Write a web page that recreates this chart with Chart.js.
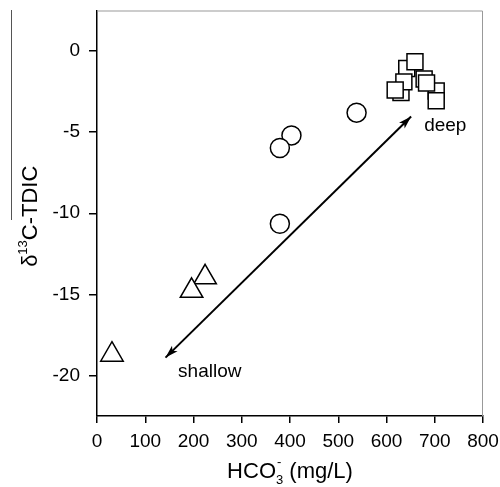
<!DOCTYPE html>
<html lang="en">
<head>
    <meta charset="UTF-8">
    <title>d13C vs HCO3</title>
    <script src="https://cdn.jsdelivr.net/npm/chart.js@4.4.0/dist/chart.umd.min.js"></script>
    <style>
        body { margin: 0; background: #fff; }
        #wrap { width: 500px; height: 487px; overflow: hidden; }
        #plot { display: block; margin-top: -4px; }
    </style>
</head>
<body>
    <div id="wrap"><canvas id="plot" width="500" height="491"></canvas></div>
    <script>
        // readings (HCO3 mg/L, d13C)
        const shallowX = [224, 196, 31];
        const shallowY = [-13.95, -14.78, -18.72];
        const midX = [403, 379, 379, 538];
        const midY = [-5.2, -5.98, -10.65, -3.8];
        const deepX = [642, 678, 703, 630, 636, 659, 683, 618, 703];
        const deepY = [-1.07, -1.72, -2.46, -2.56, -1.9, -0.66, -1.97, -2.4, -3.07];

        const xTicks = [0, 100, 200, 300, 400, 500, 600, 700, 800];
        const yTicks = [-20, -15, -10, -5, 0];

        // arrow ends and labels, in data units
        const arrowFrom = [142, -18.9];
        const arrowTo = [651, -4.04];
        const labelDeep = [678, -4.6];
        const labelShallow = [168, -19.8];

        const pts = (xs, ys) => xs.map((x, i) => ({ x: x, y: ys[i] }));
        const fam = '"Liberation Sans", Arial, sans-serif';
        const shift = 4; // canvas sits 4px above the page top

        const extras = {
            id: 'extras',
            afterDatasetsDraw(chart) {
                const ctx = chart.ctx;
                const xs = chart.scales.x, ys = chart.scales.y;
                const a = chart.chartArea;
                ctx.save();

                // thin frame on top and right
                ctx.strokeStyle = '#999';
                ctx.lineWidth = 1;
                ctx.beginPath();
                ctx.moveTo(a.left, a.top + 0.5);
                ctx.lineTo(a.right - 0.5, a.top + 0.5);
                ctx.lineTo(a.right - 0.5, a.bottom);
                ctx.stroke();

                // stray line in the left margin
                ctx.strokeStyle = '#555';
                ctx.beginPath();
                ctx.moveTo(11.5, 10 + shift);
                ctx.lineTo(11.5, 220 + shift);
                ctx.stroke();

                // double arrow
                const x1 = xs.getPixelForValue(arrowFrom[0]), y1 = ys.getPixelForValue(arrowFrom[1]);
                const x2 = xs.getPixelForValue(arrowTo[0]), y2 = ys.getPixelForValue(arrowTo[1]);
                ctx.strokeStyle = '#000';
                ctx.fillStyle = '#000';
                ctx.lineWidth = 2;
                ctx.beginPath();
                ctx.moveTo(x1, y1);
                ctx.lineTo(x2, y2);
                ctx.stroke();
                function head(tx, ty, fx, fy) {
                    const ang = Math.atan2(ty - fy, tx - fx);
                    const len = 13, w = 4;
                    ctx.beginPath();
                    ctx.moveTo(tx, ty);
                    ctx.lineTo(tx - len * Math.cos(ang) + w * Math.sin(ang), ty - len * Math.sin(ang) - w * Math.cos(ang));
                    ctx.lineTo(tx - len * 0.75 * Math.cos(ang), ty - len * 0.75 * Math.sin(ang));
                    ctx.lineTo(tx - len * Math.cos(ang) - w * Math.sin(ang), ty - len * Math.sin(ang) + w * Math.cos(ang));
                    ctx.closePath();
                    ctx.fill();
                }
                head(x2, y2, x1, y1);
                head(x1, y1, x2, y2);

                // labels
                ctx.font = '19px ' + fam;
                ctx.textAlign = 'left';
                ctx.textBaseline = 'middle';
                ctx.fillText('deep', xs.getPixelForValue(labelDeep[0]), ys.getPixelForValue(labelDeep[1]));
                ctx.fillText('shallow', xs.getPixelForValue(labelShallow[0]), ys.getPixelForValue(labelShallow[1]));

                // x title with sub/superscript
                const big = '22px ' + fam;
                const small = '13px ' + fam;
                ctx.textBaseline = 'alphabetic';
                ctx.font = big;
                const p1 = 'HCO', p3 = ' (mg/L)';
                const w1 = ctx.measureText(p1).width, w3 = ctx.measureText(p3).width;
                ctx.font = small;
                const w2 = ctx.measureText('3').width;
                let tx = (a.left + a.right) / 2 - (w1 + w2 + w3) / 2;
                const base = 478 + shift;
                ctx.font = big;
                ctx.fillText(p1, tx, base);
                tx += w1;
                ctx.font = small;
                ctx.fillText('3', tx, base + 6);
                ctx.fillText('-', tx + 1, base - 12);
                tx += w2;
                ctx.font = big;
                ctx.fillText(p3, tx, base);

                // y title rotated
                ctx.translate(37, (a.top + a.bottom) / 2 + 3);
                ctx.rotate(-Math.PI / 2);
                ctx.font = big;
                const q1 = '\u03b4', q3 = 'C-TDIC';
                const v1 = ctx.measureText(q1).width, v3 = ctx.measureText(q3).width;
                ctx.font = small;
                const v2 = ctx.measureText('13').width;
                let ty = -(v1 + v2 + v3) / 2;
                ctx.font = big;
                ctx.fillText(q1, ty, 0);
                ty += v1;
                ctx.font = small;
                ctx.fillText('13', ty, -10);
                ty += v2;
                ctx.font = big;
                ctx.fillText(q3, ty, 0);

                ctx.restore();
            }
        };

        const marker = {
            backgroundColor: '#fff',
            borderColor: '#000',
            borderWidth: 1.5
        };

        new Chart(document.getElementById('plot'), {
            type: 'scatter',
            data: {
                datasets: [
                    Object.assign({ label: 'shallow', data: pts(shallowX, shallowY), pointStyle: 'triangle', pointRadius: 13 }, marker),
                    Object.assign({ label: 'mid', data: pts(midX, midY), pointStyle: 'circle', pointRadius: 9.5 }, marker),
                    Object.assign({ label: 'deep', data: pts(deepX, deepY), pointStyle: 'rect', pointRadius: 11.3 }, marker)
                ]
            },
            options: {
                responsive: false,
                animation: false,
                layout: { padding: { left: 0, right: 17, top: 4, bottom: 0 } },
                plugins: { legend: { display: false }, tooltip: { enabled: false } },
                scales: {
                    x: {
                        type: 'linear',
                        min: 0,
                        max: 800,
                        afterBuildTicks: s => { s.ticks = xTicks.map(v => ({ value: v })); },
                        afterFit: s => { s.height = 71; s.paddingLeft = 0; s.paddingRight = 0; },
                        border: { color: '#000', width: 1.5 },
                        grid: { drawOnChartArea: false, color: '#000', lineWidth: 1.5, tickLength: 7 },
                        ticks: { color: '#000', padding: 7, maxRotation: 0, font: { family: fam, size: 19 } }
                    },
                    y: {
                        type: 'linear',
                        min: -22.5,
                        max: 2.5,
                        afterBuildTicks: s => { s.ticks = yTicks.map(v => ({ value: v })); },
                        afterFit: s => { s.width = 97; s.paddingTop = 0; s.paddingBottom = 0; },
                        border: { color: '#000', width: 1.5 },
                        grid: { drawOnChartArea: false, color: '#000', lineWidth: 1.5, tickLength: 8 },
                        ticks: { color: '#000', padding: 9, font: { family: fam, size: 19 } }
                    }
                }
            },
            plugins: [extras]
        });
    </script>
</body>
</html>
